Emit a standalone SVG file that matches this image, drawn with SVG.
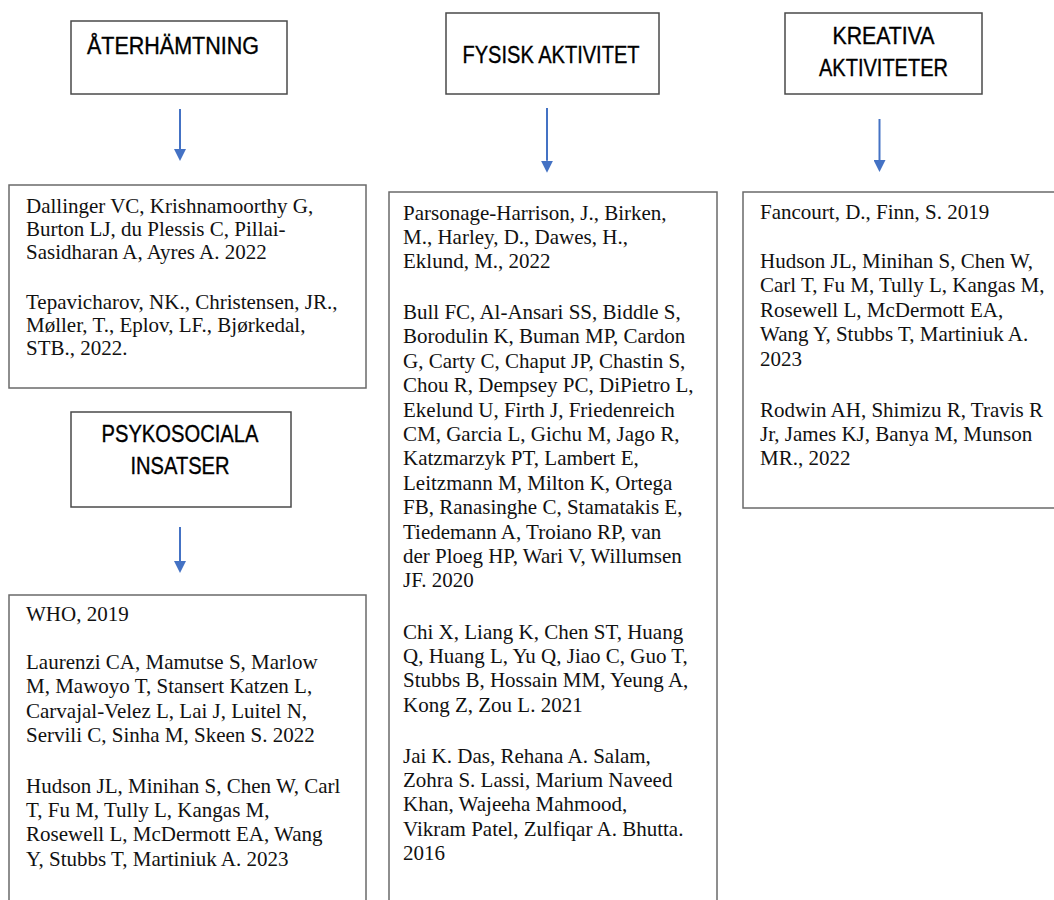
<svg xmlns="http://www.w3.org/2000/svg" width="1054" height="900" viewBox="0 0 1054 900">
<style>
.hbox{fill:#fff;stroke:#4a4a4a;stroke-width:1.5}
.tbox{fill:#fff;stroke:#6a6a6a;stroke-width:1.5}
.ht{font-family:"Liberation Sans",Arial,sans-serif;font-size:23.5px;fill:#000;stroke:#000;stroke-width:0.35;text-anchor:middle}
.rt{font-family:"Liberation Serif","Times New Roman",serif;font-size:21px;fill:#111}
.conn line{stroke:#4472C4;stroke-width:2;fill:none}
</style>
<defs>
<marker id="ah" viewBox="0 0 12 12" markerWidth="12" markerHeight="12" markerUnits="userSpaceOnUse" refX="0" refY="6" orient="auto">
<path d="M0,0 L12,6 L0,12 z" fill="#4472C4"/>
</marker>
</defs>
<rect width="1054" height="900" fill="#fff"/>

<g id="aterhamtning">
<rect class="hbox" x="71" y="21" width="216" height="73"/>
<text class="ht" x="173" y="54" textLength="172" lengthAdjust="spacingAndGlyphs">ÅTERHÄMTNING</text>
</g>

<g id="fysisk-aktivitet">
<rect class="hbox" x="446" y="13" width="213" height="81"/>
<text class="ht" x="551" y="63" textLength="177" lengthAdjust="spacingAndGlyphs">FYSISK AKTIVITET</text>
</g>

<g id="kreativa-aktiviteter">
<rect class="hbox" x="785" y="13" width="197" height="81"/>
<text class="ht" x="883.5" y="44" textLength="102" lengthAdjust="spacingAndGlyphs">KREATIVA</text>
<text class="ht" x="883.5" y="76" textLength="129" lengthAdjust="spacingAndGlyphs">AKTIVITETER</text>
</g>

<g id="psykosociala-insatser">
<rect class="hbox" x="71" y="412" width="220" height="95"/>
<text class="ht" x="180" y="442" textLength="157" lengthAdjust="spacingAndGlyphs">PSYKOSOCIALA</text>
<text class="ht" x="180" y="474" textLength="99" lengthAdjust="spacingAndGlyphs">INSATSER</text>
</g>

<g id="refs-aterhamtning">
<rect class="tbox" x="9" y="185" width="357" height="203"/>
<text class="rt" x="26" y="213">Dallinger VC, Krishnamoorthy G,</text>
<text class="rt" x="26" y="236">Burton LJ, du Plessis C, Pillai-</text>
<text class="rt" x="26" y="259">Sasidharan A, Ayres A. 2022</text>
<text class="rt" x="26" y="309">Tepavicharov, NK., Christensen, JR.,</text>
<text class="rt" x="26" y="332">Møller, T., Eplov, LF., Bjørkedal,</text>
<text class="rt" x="26" y="355">STB., 2022.</text>
</g>

<g id="refs-psykosociala">
<rect class="tbox" x="9" y="595" width="357" height="315"/>
<text class="rt" x="26" y="620.5">WHO, 2019</text>
<text class="rt" x="26" y="669">Laurenzi CA, Mamutse S, Marlow</text>
<text class="rt" x="26" y="693.4">M, Mawoyo T, Stansert Katzen L,</text>
<text class="rt" x="26" y="717.8">Carvajal-Velez L, Lai J, Luitel N,</text>
<text class="rt" x="26" y="742.2">Servili C, Sinha M, Skeen S. 2022</text>
<text class="rt" x="26" y="792.5">Hudson JL, Minihan S, Chen W, Carl</text>
<text class="rt" x="26" y="816.9">T, Fu M, Tully L, Kangas M,</text>
<text class="rt" x="26" y="841.3">Rosewell L, McDermott EA, Wang</text>
<text class="rt" x="26" y="865.7">Y, Stubbs T, Martiniuk A. 2023</text>
</g>

<g id="refs-fysisk">
<rect class="tbox" x="389" y="192" width="328" height="718"/>
<text class="rt" x="403" y="219.5">Parsonage-Harrison, J., Birken,</text>
<text class="rt" x="403" y="243.9">M., Harley, D., Dawes, H.,</text>
<text class="rt" x="403" y="268.3">Eklund, M., 2022</text>
<text class="rt" x="403" y="319">Bull FC, Al-Ansari SS, Biddle S,</text>
<text class="rt" x="403" y="343.4">Borodulin K, Buman MP, Cardon</text>
<text class="rt" x="403" y="367.8">G, Carty C, Chaput JP, Chastin S,</text>
<text class="rt" x="403" y="392.2">Chou R, Dempsey PC, DiPietro L,</text>
<text class="rt" x="403" y="416.6">Ekelund U, Firth J, Friedenreich</text>
<text class="rt" x="403" y="441">CM, Garcia L, Gichu M, Jago R,</text>
<text class="rt" x="403" y="465.4">Katzmarzyk PT, Lambert E,</text>
<text class="rt" x="403" y="489.8">Leitzmann M, Milton K, Ortega</text>
<text class="rt" x="403" y="514.2">FB, Ranasinghe C, Stamatakis E,</text>
<text class="rt" x="403" y="538.6">Tiedemann A, Troiano RP, van</text>
<text class="rt" x="403" y="563">der Ploeg HP, Wari V, Willumsen</text>
<text class="rt" x="403" y="587.4">JF. 2020</text>
<text class="rt" x="403" y="638.5">Chi X, Liang K, Chen ST, Huang</text>
<text class="rt" x="403" y="662.9">Q, Huang L, Yu Q, Jiao C, Guo T,</text>
<text class="rt" x="403" y="687.3">Stubbs B, Hossain MM, Yeung A,</text>
<text class="rt" x="403" y="711.7">Kong Z, Zou L. 2021</text>
<text class="rt" x="403" y="762.5">Jai K. Das, Rehana A. Salam,</text>
<text class="rt" x="403" y="786.9">Zohra S. Lassi, Marium Naveed</text>
<text class="rt" x="403" y="811.3">Khan, Wajeeha Mahmood,</text>
<text class="rt" x="403" y="835.7">Vikram Patel, Zulfiqar A. Bhutta.</text>
<text class="rt" x="403" y="860.1">2016</text>
</g>

<g id="refs-kreativa">
<rect class="tbox" x="743" y="192" width="330" height="316"/>
<text class="rt" x="760" y="218.5">Fancourt, D., Finn, S. 2019</text>
<text class="rt" x="760" y="268">Hudson JL, Minihan S, Chen W,</text>
<text class="rt" x="760" y="292.4">Carl T, Fu M, Tully L, Kangas M,</text>
<text class="rt" x="760" y="316.8">Rosewell L, McDermott EA,</text>
<text class="rt" x="760" y="341.2">Wang Y, Stubbs T, Martiniuk A.</text>
<text class="rt" x="760" y="365.6">2023</text>
<text class="rt" x="760" y="416.5">Rodwin AH, Shimizu R, Travis R</text>
<text class="rt" x="760" y="440.9">Jr, James KJ, Banya M, Munson</text>
<text class="rt" x="760" y="465.3">MR., 2022</text>
</g>

<g id="connectors" class="conn">
<line x1="180" y1="109" x2="180" y2="149" marker-end="url(#ah)"/>
<line x1="547" y1="108" x2="547" y2="160.7" marker-end="url(#ah)"/>
<line x1="879.5" y1="119" x2="879.5" y2="160" marker-end="url(#ah)"/>
<line x1="180" y1="527" x2="180" y2="561" marker-end="url(#ah)"/>
</g>
</svg>
